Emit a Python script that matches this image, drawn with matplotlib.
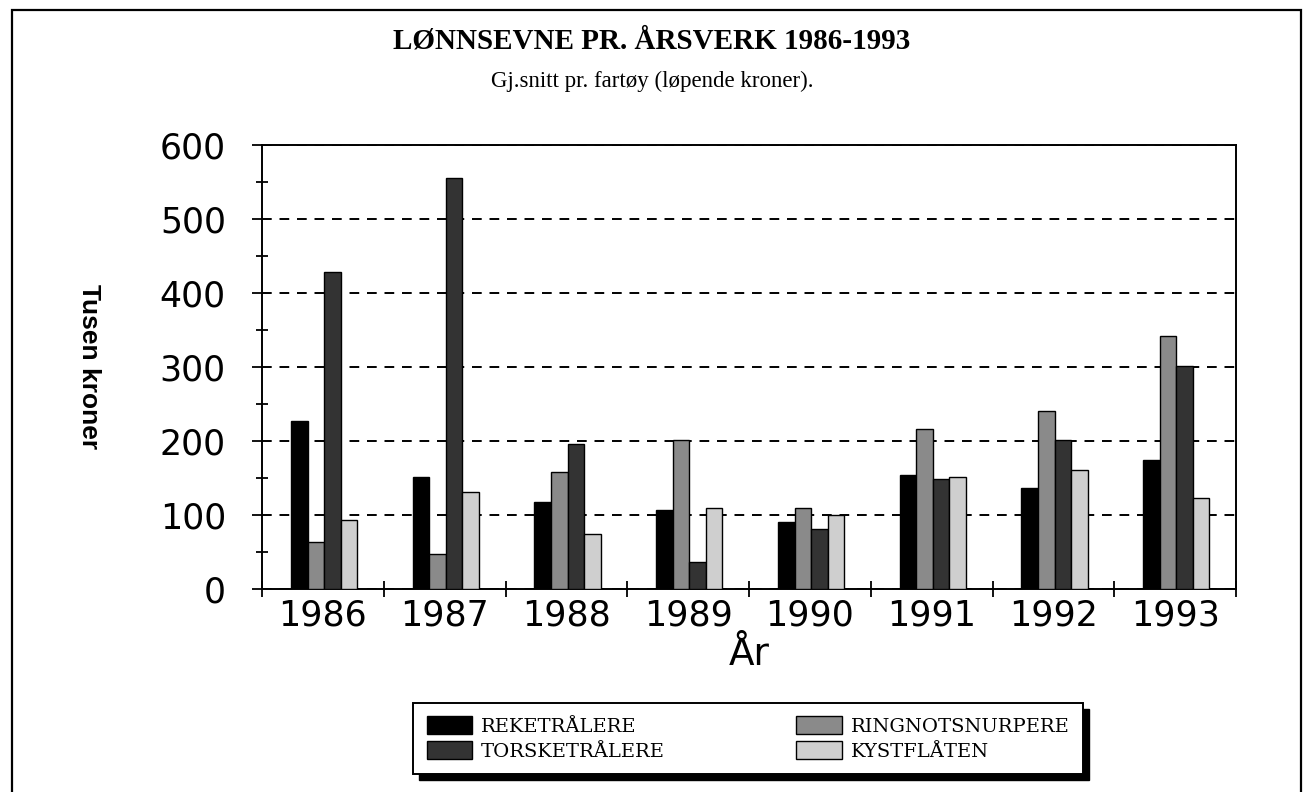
import numpy as np
import matplotlib
matplotlib.use('Agg')
import matplotlib.pyplot as plt
from matplotlib.patches import Rectangle
from matplotlib.ticker import MultipleLocator

# Data (tusen kroner)
years = ['1986', '1987', '1988', '1989', '1990', '1991', '1992', '1993']
reketralere = [227, 152, 118, 107, 90, 154, 136, 175]
ringnot = [63, 47, 158, 201, 110, 216, 241, 342]
torsketralere = [429, 555, 196, 36, 81, 148, 201, 302]
kystflaten = [93, 131, 74, 110, 100, 152, 161, 123]

series = [
    ('REKETRÅLERE', reketralere, '#000000'),
    ('RINGNOTSNURPERE', ringnot, '#8a8a8a'),
    ('TORSKETRÅLERE', torsketralere, '#333333'),
    ('KYSTFLÅTEN', kystflaten, '#cfcfcf'),
]

fig = plt.figure(figsize=(13.04, 7.92), dpi=100)
ax = fig.add_axes([262/1304, 1-589/792, (1236-262)/1304, (589-145)/792])

x = np.arange(len(years))
w = 0.136
bars = {}
for i, (name, vals, col) in enumerate(series):
    bars[name] = ax.bar(x + (i - 1.5) * w + 0.01, vals, w, color=col,
                        edgecolor='black', linewidth=1.0, zorder=3, label=name)

ax.set_xlim(-0.5, len(years) - 0.5)
ax.set_ylim(0, 600)
ax.yaxis.set_major_locator(MultipleLocator(100))
ax.yaxis.set_minor_locator(MultipleLocator(50))
ax.set_xticks(np.arange(len(years) + 1) - 0.5, minor=False)
ax.set_xticklabels([])
ax.set_xticks(x, minor=True)
ax.set_xticklabels(years, minor=True, fontsize=25, family='DejaVu Sans')
ax.tick_params(axis='x', which='major', direction='inout', length=11, width=1.3)
ax.tick_params(axis='x', which='minor', length=0, pad=7)
ax.tick_params(axis='y', which='major', direction='out', length=7, width=1.3,
               labelsize=25, pad=19)
ax.tick_params(axis='y', which='minor', direction='inout', length=8, width=1.3)
for lab in ax.get_yticklabels():
    lab.set_family('DejaVu Sans')

ax.grid(axis='y', which='major', linestyle=(0, (5, 4)), color='black',
        linewidth=1.4, zorder=1)
for s in ax.spines.values():
    s.set_linewidth(1.4)

ax.set_xlabel('År', fontsize=27, family='DejaVu Sans', labelpad=3)
ax.yaxis.set_label_coords(-0.178, 0.5)
ax.set_ylabel('Tusen kroner', fontsize=19, family='Liberation Sans',
              fontweight='bold', rotation=270, va='center')

fig.text(0.5, 1 - 41/792, 'LØNNSEVNE PR. ÅRSVERK 1986-1993', ha='center',
         va='center', fontsize=21, fontweight='bold', family='Liberation Serif')
fig.text(0.5, 1 - 81/792, 'Gj.snitt pr. fartøy (løpende kroner).', ha='center',
         va='center', fontsize=16.5, family='Liberation Serif')

# outer frame
fig.patches.append(Rectangle((12/1304, -0.05), (1301-12)/1304, 1.05 - 10/792,
                             transform=fig.transFigure, fill=False,
                             edgecolor='black', linewidth=1.6))

handles = [bars['REKETRÅLERE'], bars['TORSKETRÅLERE'],
           bars['RINGNOTSNURPERE'], bars['KYSTFLÅTEN']]
labels = ['REKETRÅLERE', 'TORSKETRÅLERE', 'RINGNOTSNURPERE', 'KYSTFLÅTEN']
leg = fig.legend(handles, labels, ncol=2, loc='center',
                 bbox_to_anchor=(413/1304, 1-778/792, 670/1304, 79/792),
                 mode='expand', prop={'family': 'DejaVu Serif', 'size': 14},
                 handlelength=2.35, handleheight=1.05, handletextpad=0.45,
                 labelspacing=0.25, borderaxespad=0, borderpad=0.7,
                 fancybox=False, framealpha=1)
leg.get_frame().set_edgecolor('black')
leg.get_frame().set_linewidth(1.4)
leg.set_zorder(5)

fig.canvas.draw()
bb = leg.get_window_extent()
inv = fig.transFigure.inverted()
(x0, y0), (x1, y1) = inv.transform([(bb.x0 + 6, bb.y0 - 6), (bb.x1 + 6, bb.y1 - 6)])
fig.patches.append(Rectangle((x0, y0), x1 - x0, y1 - y0, transform=fig.transFigure,
                             facecolor='black', edgecolor='black', zorder=4))

fig.savefig('out.png', dpi=100)
